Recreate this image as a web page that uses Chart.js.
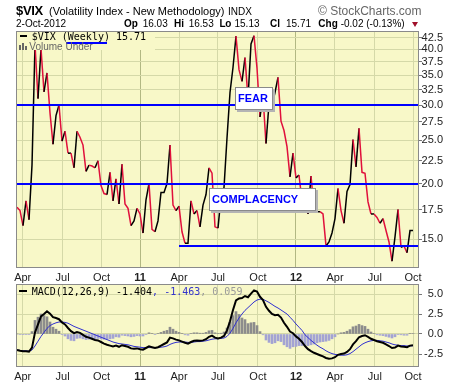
<!DOCTYPE html>
<html>
<head>
<meta charset="utf-8">
<script src="https://cdn.jsdelivr.net/npm/chart.js@4.4.0/dist/chart.umd.min.js"></script>
<style>
  body { margin: 0; width: 460px; height: 383px; overflow: hidden; position: relative; background: #fff;
         font-family: 'Liberation Sans', Arial, sans-serif; color: #000; }
  .abs { position: absolute; white-space: nowrap; line-height: 1; }
  canvas { position: absolute; left: 0; }
  #main { top: 0; }
  #macd { top: 281px; }
  .mono { font-family: 'DejaVu Sans Mono', monospace; font-size: 10px; }
  .box { position: absolute; box-sizing: border-box; background: #fff; border: 1px solid #8a8a8a;
         box-shadow: 2px 2px 0 #b4b4b4; color: #0000ff; font-weight: bold; font-size: 11px;
         line-height: 21px; padding-left: 2px; }
</style>
</head>
<body>
<canvas id="main" width="460" height="285"></canvas>
<canvas id="macd" width="460" height="102"></canvas>

<!-- header -->
<div class="abs" style="left:16px;top:4px;font-size:13px;font-weight:bold;letter-spacing:-0.3px">$VIX</div>
<div class="abs" style="left:49px;top:5.7px;font-size:11px">(Volatility Index - New Methodology)</div>
<div class="abs" style="left:228px;top:6.5px;font-size:10px">INDX</div>
<div class="abs" style="left:318px;top:4.8px;font-size:12px;color:#666">© StockCharts.com</div>

<div class="abs" style="left:16px;top:18.5px;font-size:10px">2-Oct-2012</div>
<div class="abs" style="left:124px;top:18.5px;font-size:10px;font-weight:bold">Op</div>
<div class="abs" style="left:142.7px;top:18.5px;font-size:10px">16.03</div>
<div class="abs" style="left:174px;top:18.5px;font-size:10px;font-weight:bold">Hi</div>
<div class="abs" style="left:188.7px;top:18.5px;font-size:10px">16.53</div>
<div class="abs" style="left:219.5px;top:18.5px;font-size:10px;font-weight:bold;letter-spacing:-0.3px">Lo</div>
<div class="abs" style="left:234.5px;top:18.5px;font-size:10px">15.13</div>
<div class="abs" style="left:270px;top:18.5px;font-size:10px;font-weight:bold">Cl</div>
<div class="abs" style="left:286px;top:18.5px;font-size:10px">15.71</div>
<div class="abs" style="left:318.3px;top:18.5px;font-size:10px;font-weight:bold">Chg</div>
<div class="abs" style="left:340.7px;top:18.5px;font-size:10px">-0.02 (-0.13%)</div>
<div class="abs" style="left:412px;top:22px;width:0;height:0;border-left:3.5px solid transparent;border-right:3.5px solid transparent;border-top:5px solid #a0102a"></div>

<!-- price legend (opaque, hides data under it) -->
<div class="abs" style="left:17px;top:32px;width:138px;height:18px;background:#f8f8c8"></div>
<div class="abs" style="left:20px;top:34.7px;width:7px;height:2px;background:#000"></div>
<div class="abs mono" style="left:31.7px;top:31.5px">$VIX (Weekly) 15.71</div>
<div class="abs" style="left:65.7px;top:42px;width:41px;height:2px;background:#0000ff"></div>
<div class="abs" style="left:19px;top:45px;width:2px;height:5px;background:#666"></div>
<div class="abs" style="left:22px;top:43px;width:2px;height:7px;background:#666"></div>
<div class="abs" style="left:25px;top:46px;width:2px;height:4px;background:#666"></div>
<div class="abs" style="left:29.3px;top:41.5px;font-size:10px;color:#666">Volume Under</div>

<!-- annotations -->
<div class="box" style="left:235px;top:87px;width:38px;height:23px">FEAR</div>
<div class="box" style="left:209px;top:188px;width:107px;height:23px">COMPLACENCY</div>

<!-- macd legend -->
<div class="abs" style="left:19px;top:290px;width:8px;height:2px;background:#000"></div>
<div class="abs mono" style="left:31.7px;top:286.5px">MACD(12,26,9) -1.404<span style="color:#3333cc">, -1.463</span><span style="color:#999">, 0.059</span></div>

<script>
// ── Data (weekly, Mar 26 2010 → Oct 2 2012) ──
const vix = [
  17.7, 17.4, 16.1, 18.3, 16.6, 22.0, 41.0, 31.0, 40.1, 32.1,
  35.4, 28.8, 24.5, 28.4, 30.0, 24.9, 26.2, 23.4, 23.4, 21.7,
  26.2, 25.4, 24.4, 21.3, 22.0, 21.9, 21.7, 22.5, 19.8, 19.0,
  18.9, 21.2, 18.3, 20.5, 18.0, 22.1, 18.0, 17.6, 16.1, 16.5,
  17.6, 17.1, 15.5, 18.4, 20.0, 15.8, 15.6, 16.5, 19.1, 19.1,
  20.0, 24.4, 17.9, 17.4, 17.8, 15.6, 14.7, 14.7, 18.3, 17.1,
  17.4, 16.0, 17.9, 18.9, 21.7, 21.1, 16.0, 15.9, 18.7, 19.6,
  25.3, 32.0, 36.4, 42.8, 36.0, 33.9, 38.3, 31.0, 41.1, 42.9,
  36.3, 28.2, 31.3, 24.6, 30.2, 30.0, 32.0, 34.6, 27.6, 26.3,
  24.2, 20.7, 23.4, 20.6, 20.9, 18.3, 18.5, 17.1, 20.8, 17.6,
  17.3, 17.3, 17.1, 14.5, 14.8, 15.5, 16.7, 19.5, 17.4, 16.3,
  19.2, 19.9, 25.1, 21.8, 26.6, 21.2, 21.1, 18.2, 17.1, 17.1,
  16.8, 16.3, 16.7, 15.7, 14.8, 13.4, 15.2, 17.5, 14.4, 14.5,
  14.0, 15.7, 15.71
];

const macdLine = [
  -2.0, -2.1, -2.15, -2.15, -2.2, -1.7, 0.2, 1.2, 2.2, 2.5,
  2.85, 2.55, 2.1, 2.0, 1.85, 1.45, 1.2, 0.75, 0.35, 0.1,
  0.25, 0.15, -0.1, -0.35, -0.45, -0.6, -0.75, -0.8, -1.0, -1.2,
  -1.35, -1.45, -1.55, -1.45, -1.6, -1.4, -1.5, -1.6, -1.8, -1.85,
  -1.8, -1.9, -1.95, -1.75, -1.55, -1.65, -1.75, -1.65, -1.45, -1.25,
  -1.05, -0.45, -0.55, -0.7, -0.8, -0.95, -1.1, -1.2, -1.0, -0.85,
  -0.8, -0.85, -0.8, -0.65, -0.35, -0.2, -0.45, -0.55, -0.45, -0.25,
  0.45, 1.6, 3.0, 4.2, 4.45, 4.5, 4.75, 4.6, 5.05, 5.45,
  5.3, 4.65, 4.25, 3.4, 2.9, 2.5, 2.35, 2.4, 2.05, 1.4,
  0.9, 0.3, 0.1, -0.3, -0.6, -1.0, -1.5, -1.9, -2.15, -2.35,
  -2.5, -2.65, -2.8, -3.0, -3.1, -3.05, -2.9, -2.6, -2.5, -2.45,
  -2.25, -1.9, -1.3, -0.9, -0.4, -0.25, -0.15, -0.35, -0.6, -0.75,
  -0.9, -1.0, -1.1, -1.3, -1.5, -1.75, -1.7, -1.45, -1.55, -1.6,
  -1.65, -1.45, -1.404
];

const signalLine = [
  -2.0, -2.05, -2.1, -2.1, -2.15, -2.0, -1.5, -0.9, -0.3, 0.2,
  0.7, 1.05, 1.25, 1.4, 1.5, 1.5, 1.45, 1.35, 1.15, 0.95,
  0.8, 0.65, 0.5, 0.35, 0.2, 0.05, -0.1, -0.25, -0.4, -0.55,
  -0.7, -0.85, -1.0, -1.1, -1.2, -1.25, -1.3, -1.35, -1.45, -1.55,
  -1.6, -1.65, -1.7, -1.7, -1.7, -1.7, -1.7, -1.7, -1.65, -1.6,
  -1.5, -1.3, -1.15, -1.05, -1.0, -1.0, -1.0, -1.05, -1.05, -1.0,
  -0.95, -0.95, -0.9, -0.85, -0.75, -0.65, -0.6, -0.6, -0.55, -0.5,
  -0.3, 0.1, 0.7, 1.4, 2.0, 2.5, 2.95, 3.3, 3.65, 4.0,
  4.25, 4.35, 4.35, 4.15, 3.95, 3.7, 3.45, 3.25, 3.0, 2.75,
  2.5, 2.1, 1.7, 1.25, 0.85, 0.45, -0.1, -0.45, -0.8, -1.1,
  -1.4, -1.65, -1.85, -2.1, -2.3, -2.45, -2.55, -2.6, -2.65, -2.65,
  -2.6, -2.45, -2.2, -1.9, -1.6, -1.3, -1.1, -0.95, -0.85, -0.8,
  -0.8, -0.85, -0.9, -1.0, -1.1, -1.25, -1.35, -1.4, -1.45, -1.45,
  -1.5, -1.5, -1.463
];

// month gridlines, in week-index units
const monthPos    = [1.9, 15.2, 28.2, 41, 54, 67, 80.3, 93, 106, 119.3, 132];
const monthLabels = ['Apr', 'Jul', 'Oct', '11', 'Apr', 'Jul', 'Oct', '12', 'Apr', 'Jul', 'Oct'];
const priceTicks  = [15, 17.5, 20, 22.5, 25, 27.5, 30, 32.5, 35, 37.5, 40, 42.5];
const macdTicks   = [-2.5, 0, 2.5, 5];

const levelLines   = [30, 20];
const supportLevel = 14.5;
const supportStart = 54;

const histogram = macdLine.map((m, i) => m - signalLine[i]);

// ── Helpers ───────────────────────────────────
const BG   = '#f8f8c8';
const GRID = '#d5d9a8';
const UP   = '#000000';
const DOWN = '#e0103c';

const isYear = i => /^\d+$/.test(monthLabels[i] || '');

Chart.defaults.font.family = "'Liberation Sans', Arial, sans-serif";
Chart.defaults.font.size = 11;

const plotFrame = {
  id: 'plotFrame',
  beforeDraw(chart) {
    const { ctx, chartArea: a } = chart;
    ctx.save();
    ctx.fillStyle = BG;
    ctx.fillRect(a.left, a.top, a.right - a.left, a.bottom - a.top);
    ctx.restore();
  },
  afterDraw(chart) {
    const { ctx, chartArea: a } = chart;
    ctx.save();
    ctx.strokeStyle = '#8a8a8a';
    ctx.lineWidth = 1;
    ctx.strokeRect(a.left + 0.5, a.top + 0.5, a.right - a.left - 1, a.bottom - a.top - 1);
    ctx.restore();
  }
};

const levels = {
  id: 'levels',
  afterDatasetsDraw(chart) {
    const { ctx, chartArea: a, scales: { x, y } } = chart;
    ctx.save();
    ctx.strokeStyle = '#0000ff';
    ctx.lineWidth = 2;
    ctx.beginPath();
    levelLines.forEach(v => {
      const py = Math.round(y.getPixelForValue(v));
      ctx.moveTo(a.left, py);
      ctx.lineTo(a.right, py);
    });
    const sy = Math.round(y.getPixelForValue(supportLevel));
    ctx.moveTo(x.getPixelForValue(supportStart), sy);
    ctx.lineTo(a.right, sy);
    ctx.stroke();
    ctx.restore();
  }
};

function xAxis(height) {
  return {
    type: 'linear', min: -1 / 3, max: 134, offset: false,
    afterBuildTicks: s => { s.ticks = monthPos.map(v => ({ value: v })); },
    afterFit: s => { s.height = height; s.paddingLeft = 0; s.paddingRight = 0; },
    ticks: {
      autoSkip: false, maxRotation: 0, padding: 3, color: '#222',
      callback: (v, i) => monthLabels[i],
      font: c => ({ size: 11, weight: isYear(c.index) ? 'bold' : 'normal' }),
    },
    grid: { offset: false, drawTicks: false, color: c => isYear(c.index) ? '#b2b883' : GRID },
    border: { display: false },
  };
}

function yAxis(ticks, min, max, type) {
  return {
    type, position: 'right', min, max,
    afterBuildTicks: s => { s.ticks = ticks.map(v => ({ value: v })); },
    afterFit: s => { s.width = 24; s.paddingTop = 0; s.paddingBottom = 0; },
    ticks: { crossAlign: 'far', padding: 1, color: '#222', font: { size: 11 }, callback: v => Number(v).toFixed(1) },
    grid: { color: GRID, tickLength: 3, tickColor: '#777' },
    border: { display: false },
  };
}

const common = {
  responsive: false,
  animation: false,
  devicePixelRatio: 1,
  events: [],
  plugins: { legend: { display: false }, tooltip: { enabled: false } },
};

// ── Price chart ───────────────────────────────
new Chart(document.getElementById('main'), {
  type: 'line',
  data: {
    datasets: [{
      data: vix.map((v, i) => ({ x: i, y: v })),
      borderWidth: 1.5,
      pointRadius: 0,
      tension: 0,
      segment: { borderColor: c => c.p1.parsed.y >= c.p0.parsed.y ? UP : DOWN },
    }],
  },
  options: {
    ...common,
    layout: { padding: { left: 16, top: 31, right: 17, bottom: 0 } },
    scales: { x: xAxis(17), y: yAxis(priceTicks, 12.94, 43.95, 'logarithmic') },
  },
  plugins: [plotFrame, levels],
});

// ── MACD chart ────────────────────────────────
new Chart(document.getElementById('macd'), {
  type: 'bar',
  data: {
    datasets: [
      {
        type: 'line', order: 1,
        data: macdLine.map((v, i) => ({ x: i, y: v })),
        borderColor: '#000', borderWidth: 2, pointRadius: 0, tension: 0,
      },
      {
        type: 'line', order: 2,
        data: signalLine.map((v, i) => ({ x: i, y: v })),
        borderColor: '#3030d0', borderWidth: 1, pointRadius: 0, tension: 0,
      },
      {
        type: 'bar', order: 3,
        data: histogram.map((v, i) => ({ x: i, y: v })),
        backgroundColor: c => (c.raw && c.raw.y >= 0) ? '#8c8c8c' : '#a3a3d3',
        barThickness: 2,
      },
    ],
  },
  options: {
    ...common,
    layout: { padding: { left: 16, top: 3, right: 17, bottom: 0 } },
    scales: { x: xAxis(16), y: yAxis(macdTicks, -4.125, 6.25, 'linear') },
  },
  plugins: [plotFrame],
});
</script>
</body>
</html>
